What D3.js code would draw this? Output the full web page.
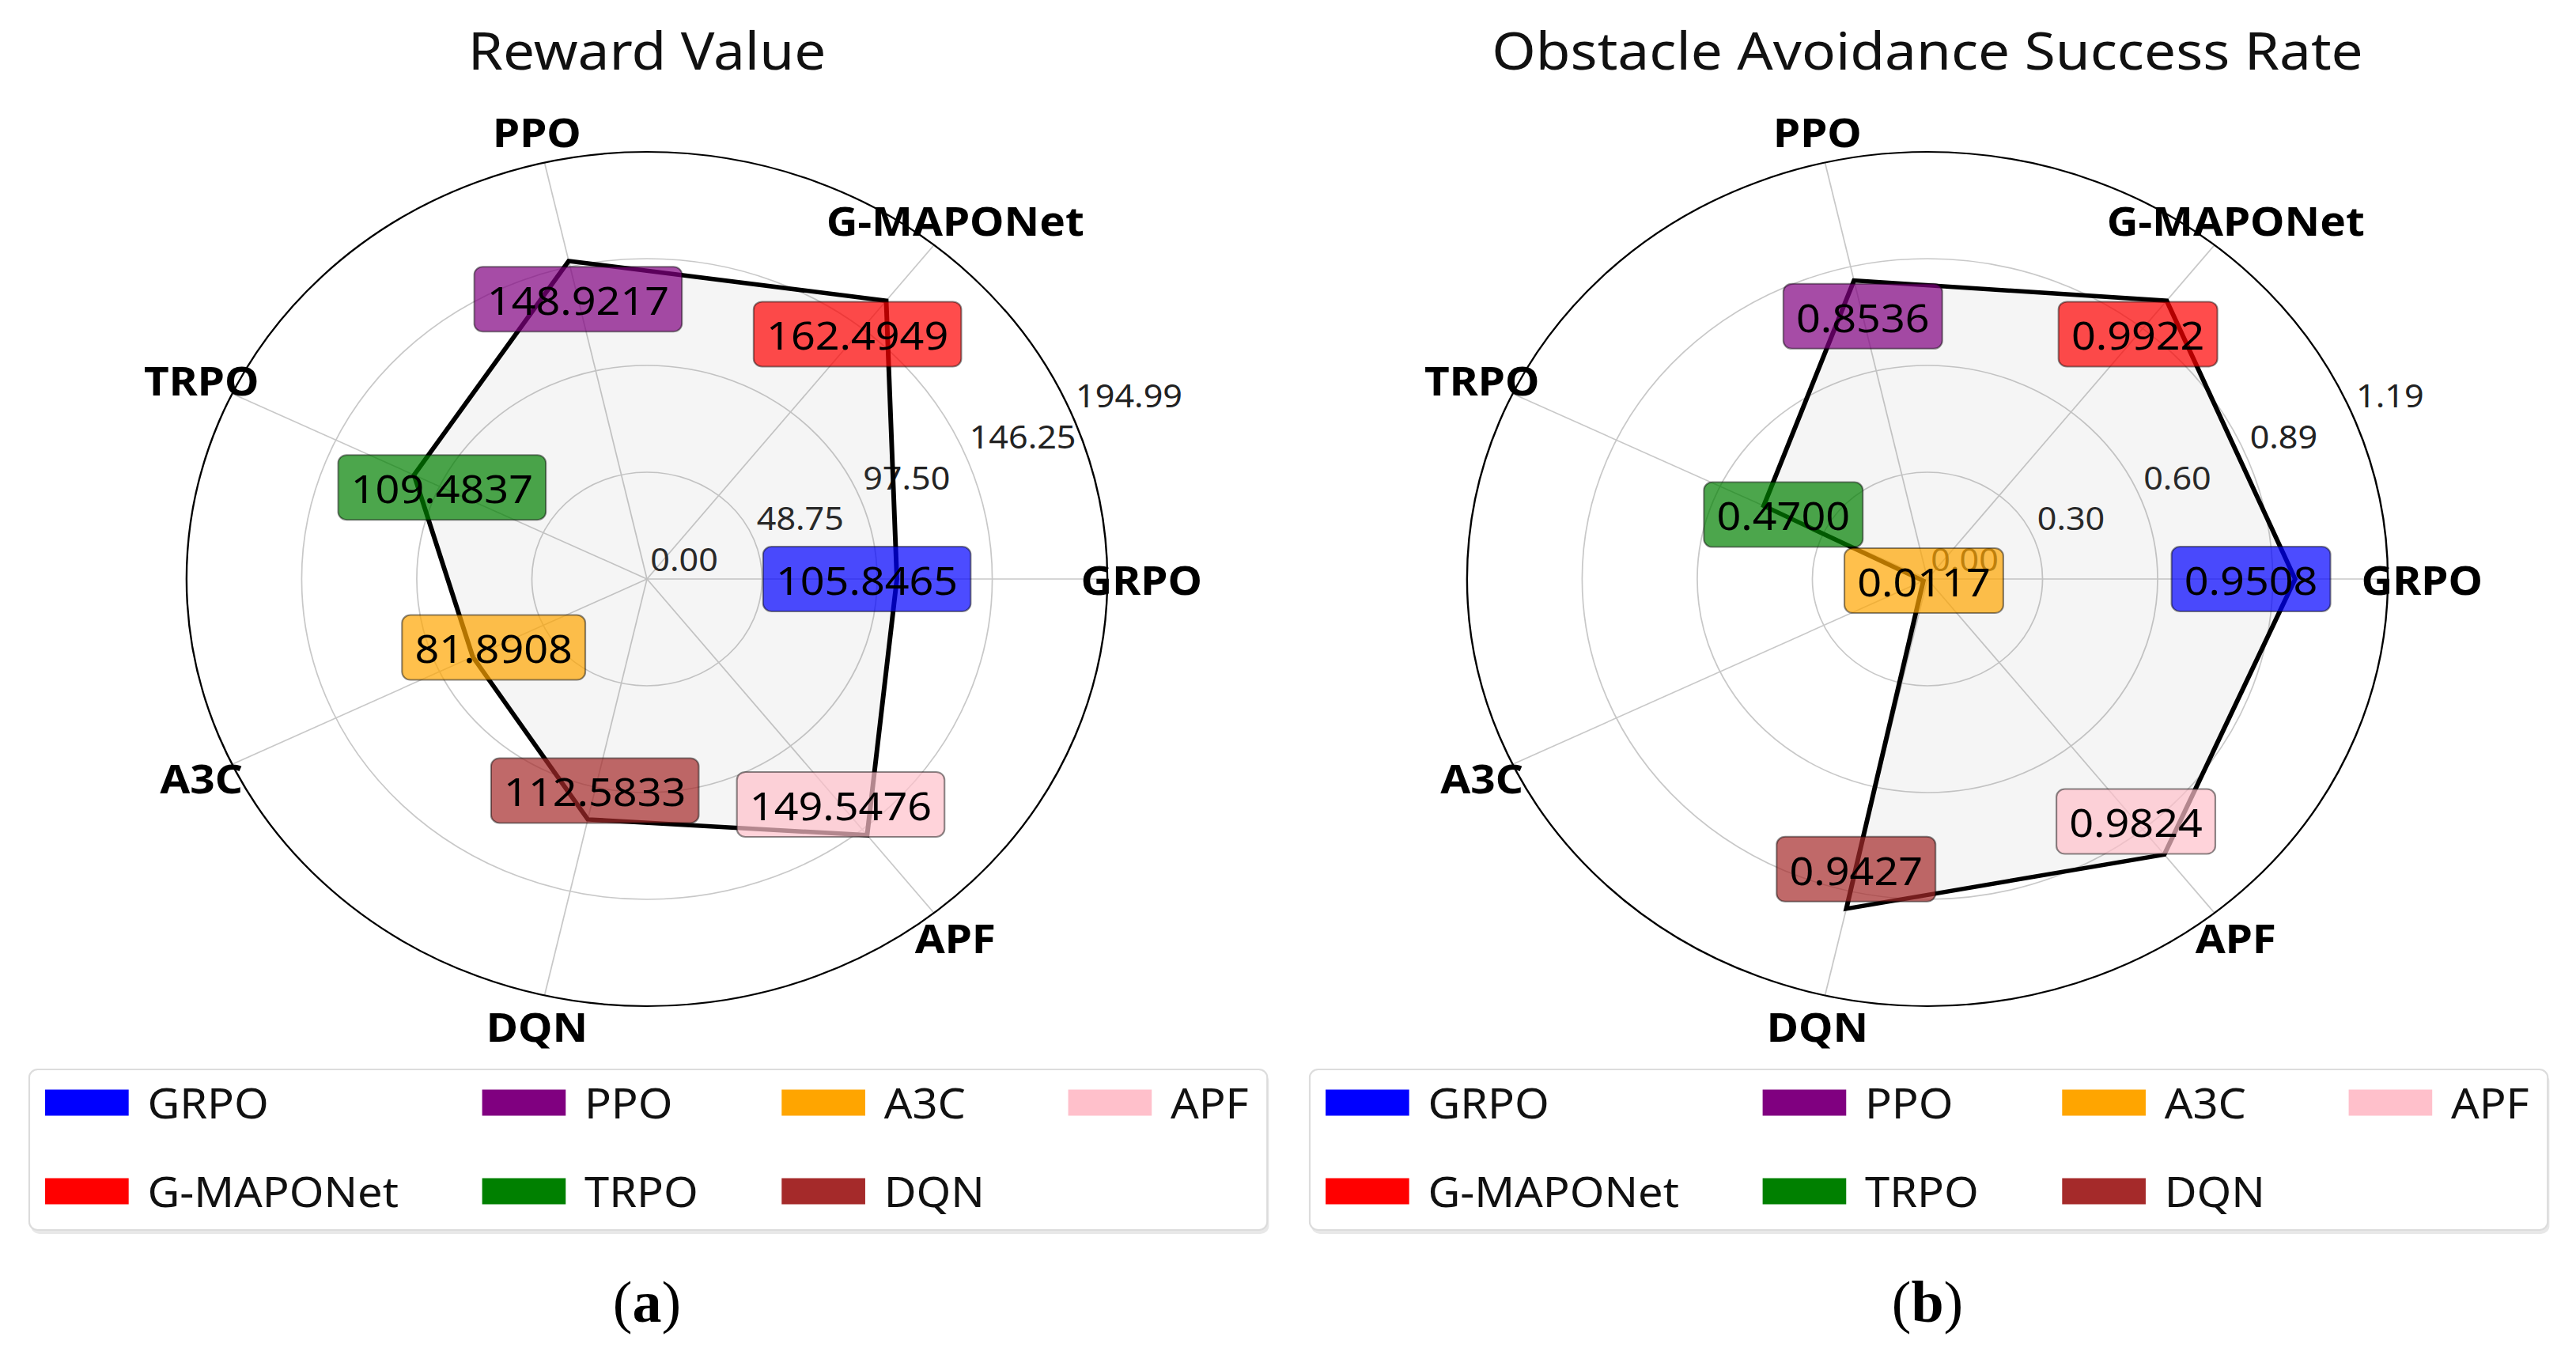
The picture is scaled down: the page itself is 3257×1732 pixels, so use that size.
<!DOCTYPE html>
<html>
<head>
  <meta charset="utf-8">
  <title>Reward Value / Obstacle Avoidance Success Rate</title>
  <script src="https://d3js.org/d3.v7.min.js"></script>
  <style>
    body { margin: 0; background: #fff; }
    svg { display: block; font-family: "Noto Sans", "Open Sans", sans-serif; }
  </style>
</head>
<body>
  <svg id="chart"></svg>
  <script>
    // data
    const methods = ["GRPO", "G-MAPONet", "PPO", "TRPO", "A3C", "DQN", "APF"];
    const methodColors = ["#0000ff", "#ff0000", "#800080", "#008000", "#ffa500", "#a52a2a", "#ffc0cb"];
    const rewardValues = [105.8465, 162.4949, 148.9217, 109.4837, 81.8908, 112.5833, 149.5476];
    const successValues = [0.9508, 0.9922, 0.8536, 0.4700, 0.0117, 0.9427, 0.9824];
    const panelTitles = ["Reward Value", "Obstacle Avoidance Success Rate"];
    const panelTags = ["a", "b"];

    const width = 3257, height = 1732;
    // the source figure is stretched a little horizontally
    const sx = 1.078;
    const R = 540, cy = 732;
    const centers = [818, 2437];

    const svg = d3.select("#chart")
      .attr("width", width)
      .attr("height", height);

    svg.append("rect").attr("width", width).attr("height", height).attr("fill", "#fff");

    const n = methods.length;
    const angle = i => i * 2 * Math.PI / n;   // counter-clockwise from east

    function drawPanel(values, title, tag, cx) {
      const g = svg.append("g").attr("transform", "translate(" + cx + "," + cy + ") scale(" + sx + ",1)");
      const rmax = d3.max(values) * 1.2;
      const r = d3.scaleLinear().domain([0, rmax]).range([0, R]);
      const ticks = d3.range(5).map(k => rmax * k / 4);

      // grid rings
      g.selectAll(".ring")
        .data(ticks.slice(1, 4))
        .enter().append("circle")
          .attr("r", d => r(d))
          .attr("fill", "none")
          .attr("stroke", "#c8c8c8")
          .attr("stroke-width", 1.6);

      // spokes
      g.selectAll(".spoke")
        .data(methods)
        .enter().append("line")
          .attr("x1", 0).attr("y1", 0)
          .attr("x2", (d, i) => R * Math.cos(angle(i)))
          .attr("y2", (d, i) => -R * Math.sin(angle(i)))
          .attr("stroke", "#c8c8c8")
          .attr("stroke-width", 1.6);

      // outer frame
      g.append("circle").attr("r", R).attr("fill", "none")
        .attr("stroke", "#000").attr("stroke-width", 2.2);

      // radial tick labels along 22.5deg
      const ta = 22.5 * Math.PI / 180;
      g.selectAll(".rtick")
        .data(ticks)
        .enter().append("text")
          .attr("x", d => r(d) * Math.cos(ta) + 4)
          .attr("y", d => -r(d) * Math.sin(ta) - 10)
          .attr("font-size", 40)
          .attr("fill", "#222")
          .text(d => d3.format(".2f")(d));

      // data polygon
      const radial = d3.lineRadial()
        .angle((d, i) => Math.PI / 2 - angle(i))
        .radius(d => r(d))
        .curve(d3.curveLinearClosed);

      g.append("path")
        .attr("d", radial(values))
        .attr("fill", "rgba(128,128,128,0.08)")
        .attr("stroke", "#000")
        .attr("stroke-width", 5.5)
        .attr("stroke-linejoin", "miter");

      // category labels
      const D = R + 40;
      g.selectAll(".cat")
        .data(methods)
        .enter().append("text")
          .attr("font-size", 51)
          .attr("font-weight", "bold")
          .attr("text-anchor", "middle")
          .attr("dominant-baseline", "central")
          .attr("x", (d, i) => D * Math.cos(angle(i)))
          .attr("y", (d, i) => -D * Math.sin(angle(i)))
          .text(d => d);

      // value boxes
      const fs = 50;
      const vg = g.selectAll(".val")
        .data(values)
        .enter().append("g")
          .attr("transform", (d, i) => "translate(" + (0.88 * r(d) * Math.cos(angle(i))) + "," + (-0.88 * r(d) * Math.sin(angle(i))) + ")");

      vg.append("text")
        .attr("font-size", fs)
        .attr("text-anchor", "middle")
        .attr("dominant-baseline", "central")
        .attr("fill", "#000")
        .text(d => d3.format(".4f")(d))
        .each(function(d, i) {
          const w = this.getComputedTextLength();
          const h = 82;
          d3.select(this.parentNode).insert("rect", "text")
            .attr("x", -w / 2 - 15).attr("y", -h / 2)
            .attr("width", w + 30).attr("height", h)
            .attr("rx", 10)
            .attr("fill", methodColors[i]).attr("fill-opacity", 0.7)
            .attr("stroke", "rgba(0,0,0,0.45)").attr("stroke-width", 2);
        });

      // title
      svg.append("g")
        .attr("transform", "translate(" + cx + ",88) scale(" + sx + ",1)")
        .append("text")
          .attr("text-anchor", "middle")
          .attr("font-size", 66)
          .attr("fill", "#111")
          .text(title);

      // legend, 4 columns filled column by column
      const lw = 1452, lh = 203;
      const leg = svg.append("g")
        .attr("transform", "translate(" + cx + ",1352) scale(" + sx + ",1) translate(" + (-724.5) + ",0)");
      leg.append("rect")
        .attr("x", 2).attr("y", 5).attr("width", lw).attr("height", lh)
        .attr("rx", 10).attr("fill", "#e8e8e8");
      leg.append("rect")
        .attr("width", lw).attr("height", lh)
        .attr("rx", 10).attr("fill", "#fff")
        .attr("stroke", "#dcdcdc").attr("stroke-width", 2);

      const rowsY = [42, 154];
      const hw = 98, gap = 22, colGap = 98;
      const items = methods.map((m, i) => ({ name: m, color: methodColors[i], col: Math.floor(i / 2), row: i % 2 }));
      const ig = leg.selectAll(".item")
        .data(items)
        .enter().append("g");
      ig.append("text")
        .attr("font-size", 52)
        .attr("dominant-baseline", "central")
        .attr("fill", "#111")
        .attr("y", d => rowsY[d.row])
        .text(d => d.name);
      // column positions from the widest label in each column
      const colW = [0, 0, 0, 0];
      ig.select("text").each(function(d) {
        colW[d.col] = Math.max(colW[d.col], this.getComputedTextLength());
      });
      const colX = [18.6];
      for (let c = 1; c < 4; c++) colX[c] = colX[c - 1] + hw + gap + colW[c - 1] + colGap;
      ig.select("text").attr("x", d => colX[d.col] + hw + gap);
      ig.insert("rect", "text")
        .attr("x", d => colX[d.col])
        .attr("y", d => rowsY[d.row] - 16.5)
        .attr("width", hw).attr("height", 33)
        .attr("fill", d => d.color);

      // panel tag (caption, not stretched)
      const tagText = svg.append("text")
        .attr("x", cx).attr("y", 1671)
        .attr("text-anchor", "middle")
        .attr("font-family", "'Liberation Serif', 'DejaVu Serif', serif")
        .attr("font-size", 74)
        .attr("fill", "#000");
      tagText.append("tspan").text("(");
      tagText.append("tspan").attr("font-weight", "bold").text(tag);
      tagText.append("tspan").text(")");
    }

    drawPanel(rewardValues, panelTitles[0], panelTags[0], centers[0]);
    drawPanel(successValues, panelTitles[1], panelTags[1], centers[1]);
  </script>
</body>
</html>
